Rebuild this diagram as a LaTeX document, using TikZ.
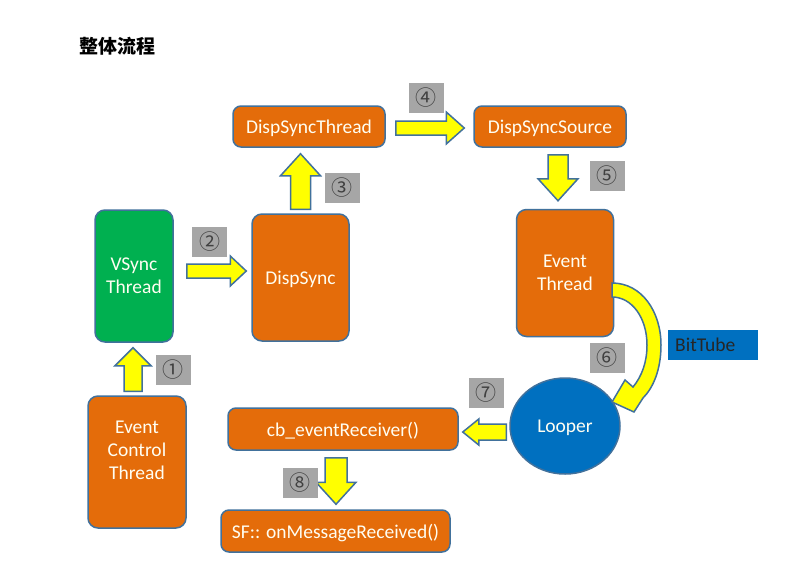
\documentclass[tikz,border=0pt]{standalone}
\usepackage{fontspec}
\setmainfont{Carlito}
\newfontfamily\cjk{Noto Sans CJK SC}
\usetikzlibrary{calc,shapes.geometric}
\definecolor{org}{HTML}{E46C0A}
\definecolor{grn}{HTML}{00B050}
\definecolor{blu}{HTML}{0070C0}
\definecolor{edge}{HTML}{41719C}
\definecolor{ylw}{HTML}{FFFF00}
\definecolor{lbl}{HTML}{A6A6A6}
\newcommand\blockarrow[5]{%
  \coordinate (ba-H) at ($(#2)!#5!(#1)$);
  \draw[yarrow] ($(#1)!#3!90:(#2)$) -- ($(ba-H)!#3!90:(#2)$) -- ($(ba-H)!#4!90:(#2)$)
    -- (#2) -- ($(ba-H)!#4!-90:(#2)$) -- ($(ba-H)!#3!-90:(#2)$) -- ($(#1)!#3!-90:(#2)$) -- cycle;}
\begin{document}
\begin{tikzpicture}[x=1pt,y=-1pt,
  boxtext/.style={text=white!95!yellow, inner sep=0pt, align=center, font=\fontsize{19.5}{23}\selectfont},
  box/.style={boxtext, draw=edge, line width=1.5pt, rounded corners=10pt, fill=org},
  flat/.style={box, rounded corners=8pt, text depth=0pt},
  yarrow/.style={draw=edge, line width=1.5pt, fill=ylw, line join=miter},
  numlbl/.style={fill=lbl, minimum width=35pt, minimum height=30pt, inner sep=0pt,
    text=black!75, font=\cjk\fontsize{21}{21}\selectfont}]
\useasboundingbox[fill=white] (0,0) rectangle (811,574);

\node[font=\cjk\bfseries\fontsize{19}{20}\selectfont, anchor=west, inner sep=0pt] (title) at (79,46) {整体流程};

% nodes
\node[box, fill=grn, minimum width=78pt, minimum height=132pt] (vs) at (134,276) {VSync\\Thread};
\node[box, text depth=0pt, minimum width=97pt, minimum height=127pt] (ds) at (300.5,277.5) {DispSync};
\node[flat, minimum width=152pt, minimum height=41pt] (dst) at (309,126.5) {DispSyncThread};
\node[flat, minimum width=152pt, minimum height=41pt] (dss) at (550,126.5) {DispSyncSource};
\node[box, minimum width=97pt, minimum height=127pt] (et) at (565,273) {Event\\Thread};
\node[box, minimum width=98pt, minimum height=132pt] (ect) at (137,462) {};
\node[boxtext] (ectt) at ($(ect.center)+(0,-12)$) {Event\\Control\\Thread};
\node[flat, minimum width=230pt, minimum height=42pt] (cb) at (343,429) {cb\_eventReceiver()};
\node[flat, minimum width=229pt, minimum height=42pt] (sf) at (335.5,531) {SF:: onMessageReceived()};
\node[box, ellipse, text depth=0pt, fill=blu, minimum width=110pt, minimum height=96pt] (lp) at (565,426) {Looper};
\node[fill=blu, minimum width=90pt, minimum height=30pt, inner sep=0pt] (bt) at (713,345) {};
\node[anchor=west, text=black!85, font=\fontsize{19.5}{22}\selectfont, inner sep=0pt, text depth=0pt] (btt) at (675,345) {BitTube};

% straight block arrows
\coordinate (a1s) at ($(ect.north)+(-4,-4)$);  \coordinate (a1e) at ($(vs.south)+(-1,5)$);
\coordinate (a2s) at ($(vs.east)+(13,-5)$);    \coordinate (a2e) at ($(ds.west)+(-5,-6.5)$);
\coordinate (a3s) at ($(ds.north)+(0,-4)$);    \coordinate (a3e) at ($(dst.south)+(-8.5,6)$);
\coordinate (a4s) at ($(dst.east)+(10,1.5)$);  \coordinate (a4e) at ($(dss.west)+(-9,1.5)$);
\coordinate (a5s) at ($(dss.south)+(8,7)$);    \coordinate (a5e) at ($(et.north)+(-7,-8)$);
\coordinate (a7s) at ($(lp.west)+(-3,6)$);     \coordinate (a7e) at ($(cb.east)+(4,3)$);
\coordinate (a8s) at ($(cb.south)+(-7,7)$);    \coordinate (a8e) at ($(sf.north)+(0.5,-5)$);

\blockarrow{a1s}{a1e}{9pt}{18pt}{18pt}
\blockarrow{a2s}{a2e}{7pt}{15pt}{16pt}
\blockarrow{a3s}{a3e}{10pt}{20pt}{22pt}
\blockarrow{a4s}{a4e}{7pt}{16pt}{18pt}
\blockarrow{a5s}{a5e}{10pt}{20pt}{22pt}
\blockarrow{a7s}{a7e}{8pt}{13pt}{16pt}
\blockarrow{a8s}{a8e}{11pt}{20pt}{22pt}

% curved arrow Event Thread -> Looper
\draw[yarrow] (612,283) .. controls (642,283) and (661,312) .. (661,345)
  .. controls (661,370) and (653,388) .. (643,398) -- (634,412) -- (612,402) -- (625,380)
  -- (633,387) .. controls (642,376) and (647,362) .. (647,345)
  .. controls (647,318) and (632,297) .. (612,297) -- cycle;

% number labels
\node[numlbl] (n1) at (173,370) {①};
\node[numlbl] (n2) at (209.5,242) {②};
\node[numlbl] (n3) at (342,188) {③};
\node[numlbl] (n4) at (426,98) {④};
\node[numlbl] (n5) at (607,176) {⑤};
\node[numlbl] (n6) at (607,357.5) {⑥};
\node[numlbl] (n7) at (486,393) {⑦};
\node[numlbl] (n8) at (300,483) {⑧};
\end{tikzpicture}
\end{document}
